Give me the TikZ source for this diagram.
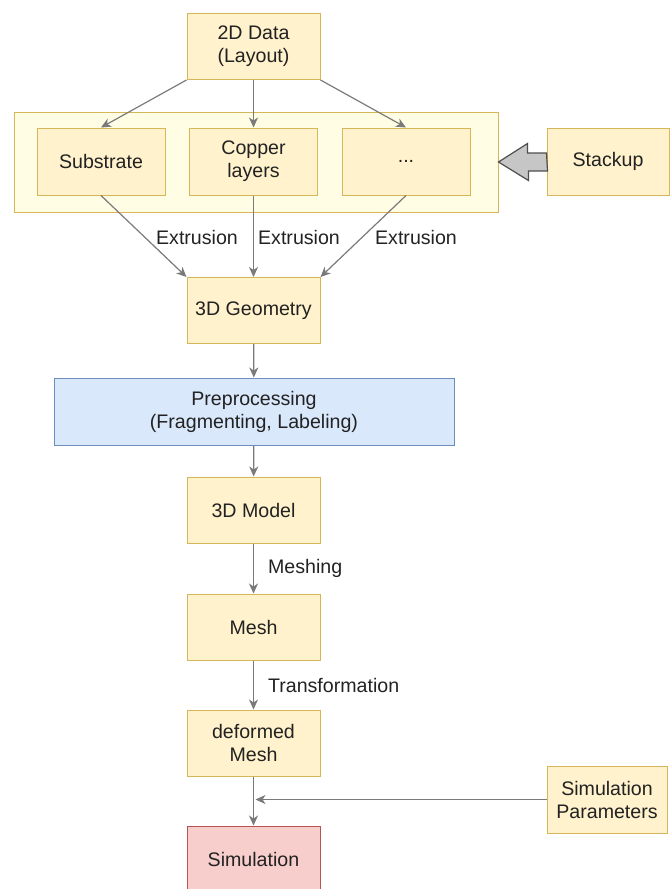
\documentclass[tikz,border=0pt]{standalone}
\usepackage{fontspec}
\setmainfont{Liberation Sans}
\usetikzlibrary{calc, arrows.meta}

\definecolor{boxfill}{HTML}{FFF2CC}
\definecolor{boxline}{HTML}{D6B656}
\definecolor{groupfill}{HTML}{FFFDE3}
\definecolor{prefill}{HTML}{DAE8FC}
\definecolor{preline}{HTML}{6C8EBF}
\definecolor{simfill}{HTML}{F8CECC}
\definecolor{simline}{HTML}{B85450}
\definecolor{edgegray}{HTML}{7A7A7A}
\definecolor{txt}{HTML}{222222}

\begin{document}
\begin{tikzpicture}[x=0.5pt, y=-0.5pt, font=\fontsize{9.8}{11.5}\selectfont, text=txt]
  \tikzstyle{box}=[draw=boxline, fill=boxfill, line width=0.5pt, align=center, minimum width=66.5pt, minimum height=33pt, inner sep=1pt]
  \tikzstyle{layer}=[box, minimum width=64pt, minimum height=33.5pt]
  \tikzstyle{flow}=[draw=edgegray, line width=0.6pt, -{Stealth[length=5pt, width=4.5pt, inset=1.5pt]}]
  \tikzstyle{lbl}=[inner sep=0pt]

  \useasboundingbox (0,0) rectangle (670,889);

  % stackup group
  \node (group) [draw=boxline, fill=groupfill, line width=0.5pt, minimum width=242pt, minimum height=50pt] at (256,162) {};

  \node (data) [box] at (253.5,46.5) {2D Data\\(Layout)};
  \node (sub) [layer] at (101,161.5) {Substrate};
  \node (cu) [layer] at (253.5,161.5) {Copper\\layers};
  \node (etc) [layer] at (406,161.5) {...};
  \node (stack) [layer, minimum width=61pt] at (608,161.5) {Stackup};

  \node (geo) [box] at (253.5,310.5) {3D Geometry};
  \node (pre) [box, draw=preline, fill=prefill, minimum width=200pt, minimum height=33.5pt] at (254,411.5) {Preprocessing\\(Fragmenting, Labeling)};
  \node (model) [box] at (253.5,510) {3D Model};
  \node (mesh) [box] at (253.5,627) {Mesh};
  \node (dmesh) [box] at (253.5,743) {deformed\\Mesh};
  \node (sim) [box, draw=simline, fill=simfill, minimum height=33.5pt] at (253.5,859.5) {Simulation};
  \node (par) [box, minimum width=60pt, minimum height=33.5pt] at (607,799.5) {Simulation\\Parameters};

  % big arrow from stackup
  \draw[draw=txt!80, fill=gray!45, line width=0.6pt, line join=miter]
    (stack.west) ++(0,-8.5) -- ++(-19,0) -- ++(0,-9.5) -- (group.east) -- ++(30,18.5)
    -- ++(0,-9.5) -- ++(19,0) -- cycle;

  \draw[flow] (data.south west) -- (sub.north);
  \draw[flow] (data.south) -- (cu.north);
  \draw[flow] (data.south east) -- (etc.north);

  \draw[flow] (sub.south) -- (geo.north west);
  \draw[flow] (cu.south) -- (geo.north);
  \draw[flow] (etc.south) -- (geo.north east);
  \node (ext1) [lbl] at (197,237) {Extrusion};
  \node (ext2) [lbl] at (299,237) {Extrusion};
  \node (ext3) [lbl] at (416,237) {Extrusion};

  \draw[flow] (geo) -- (pre);
  \draw[flow] (pre) -- (model);
  \draw[flow] (model) -- (mesh) node [lbl, midway, right, xshift=7pt] (meshing) {Meshing};
  \draw[flow] (mesh) -- (dmesh) node [lbl, midway, right, xshift=7pt] (trafo) {Transformation};
  \draw[flow] (dmesh) -- (sim);

  \coordinate (join) at (dmesh.south |- par.west);
  \draw[flow] (par.west) -- ([xshift=1pt]join);

\end{tikzpicture}
\end{document}
